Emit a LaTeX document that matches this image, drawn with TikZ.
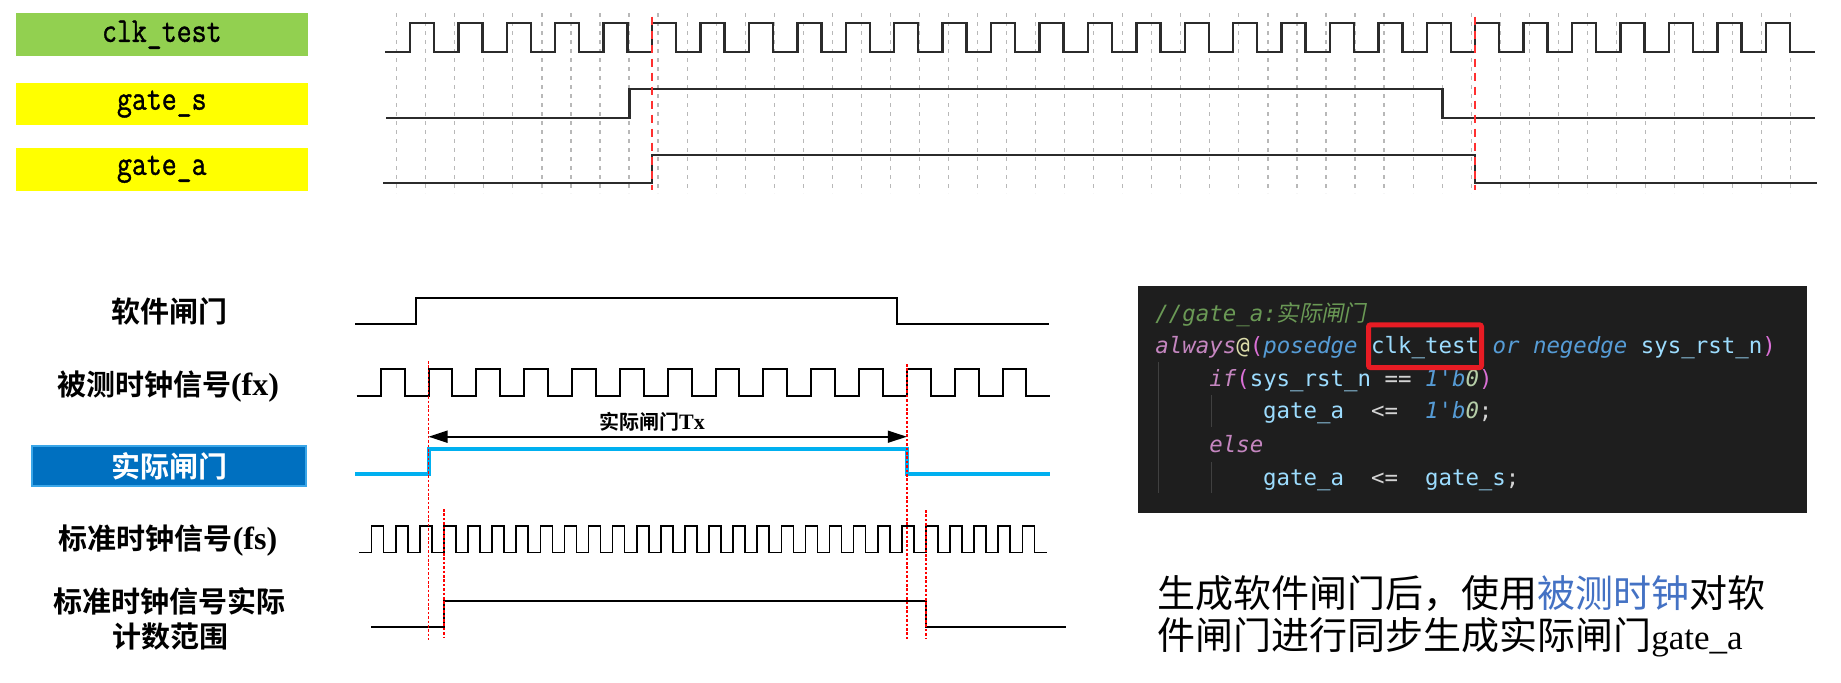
\documentclass[tikz,border=0pt]{standalone}
\usepackage{fontspec}
\usepackage{graphicx}
\usetikzlibrary{arrows.meta}
\newfontfamily\cjk[BoldFont={Noto Sans CJK SC Bold}]{Noto Sans CJK SC}
\newfontfamily\cjkslant[FakeSlant=0.2]{Noto Sans CJK SC}
\newfontfamily\codefont[Ligatures=TeXOff,ItalicFont={DejaVu Sans Mono Oblique}]{DejaVu Sans Mono}
\newfontfamily\capserif{Liberation Serif}
\newfontfamily\lblmono[FakeBold=1.2]{Latin Modern Mono}
\definecolor{boxgreen}{HTML}{92D050}
\definecolor{boxyellow}{HTML}{FFFF00}
\definecolor{boxblue}{HTML}{0070C0}
\definecolor{boxblueedge}{HTML}{3AA6E8}
\definecolor{wavegray}{HTML}{2B2B2B}
\definecolor{gridgray}{HTML}{B8B8B8}
\definecolor{markred}{HTML}{FF3030}
\definecolor{gateblue}{HTML}{00B0F0}
\definecolor{codebg}{HTML}{1E1E1E}
\definecolor{ccom}{HTML}{6A9955}
\definecolor{ckw}{HTML}{C586C0}
\definecolor{cblue}{HTML}{569CD6}
\definecolor{cid}{HTML}{9CDCFE}
\definecolor{cop}{HTML}{D4D4D4}
\definecolor{cpar}{HTML}{DA70D6}
\definecolor{cat}{HTML}{DCDCAA}
\definecolor{cnum}{HTML}{B5CEA8}
\definecolor{hlred}{HTML}{E81C24}
\definecolor{guide}{HTML}{404040}
\definecolor{capblue}{HTML}{4472C4}
\newcommand{\lbltext}[1]{\scalebox{1}[1.2]{#1}}
\newcommand{\latpart}[1]{{\capserif\fontsize{16}{17.5}\selectfont #1}}
\begin{document}
\begin{tikzpicture}[x=0.5pt,y=-0.5pt,
  toplabel/.style={minimum width=146.2pt, minimum height=21.4pt, inner sep=0pt, font=\lblmono\fontsize{14.5}{17}\selectfont},
  siglabel/.style={inner sep=0pt, font=\cjk\bfseries\fontsize{14.5}{17.5}\selectfont},
  sigwave/.style={draw=wavegray, line width=1.2pt},
  gridline/.style={draw=gridgray, line width=0.6pt, dash pattern=on 2pt off 2.5pt},
  topmark/.style={draw=markred, line width=1pt, dash pattern=on 4pt off 3pt},
  bwave/.style={draw=black, line width=1pt},
  fswave/.style={draw=black, line width=0.8pt},
  botmark/.style={draw=red, line width=0.75pt, dash pattern=on 1.3pt off 0.9pt},
  codeline/.style={anchor=base west, inner sep=0pt, text=cop, font=\codefont\fontsize{11.2}{13}\selectfont},
  guideline/.style={draw=guide, line width=0.5pt},
  capline/.style={anchor=base west, inner sep=0pt, font=\cjk\fontsize{19}{22}\selectfont}]
\useasboundingbox (0,0) rectangle (1841,682);
\fill[white] (0,0) rectangle (1841,682);

% ---------- top timing diagram ----------
\node[toplabel, fill=boxgreen] (lclk) at (161.8,34.7) {\lbltext{clk\_test}};
\node[toplabel, fill=boxyellow] (lgs) at (161.8,104) {\lbltext{gate\_s}};
\node[toplabel, fill=boxyellow] (lga) at (161.8,169.2) {\lbltext{gate\_a}};

\foreach \k in {0,...,48}
  \draw[gridline] ({396.7+29.04*\k},13) -- ({396.7+29.04*\k},193);

\draw[sigwave] (385,51.7) \foreach \k in {0,...,28} { -- ({410+48.42*\k},51.7) -- ++(0,-29) -- ++(24,0) -- ++(0,29) } -- (1815,51.7);
\draw[sigwave] (386,118) -- (629.3,118) -- (629.3,89) -- (1442.3,89) -- (1442.3,118) -- (1815,118);
\draw[sigwave] (383.3,183) -- (652.1,183) -- (652.1,155) -- (1475.2,155) -- (1475.2,183) -- (1816.7,183);
\draw[topmark] (652.1,16.7) -- (652.1,190);
\draw[topmark] (1475.2,16.7) -- (1475.2,190);

% ---------- bottom-left timing diagram ----------
\node[siglabel] (sw) at (169,311) {软件闸门};
\node[siglabel] (fx) at (168,387) {被测时钟信号\latpart{(fx)}};
\node[siglabel, fill=boxblue, draw=boxblueedge, line width=0.75pt, text=white, minimum width=137pt, minimum height=20pt] (ag) at (169,466) {实际闸门};
\node[siglabel] (fs) at (168,541) {标准时钟信号\latpart{(fs)}};
\node[siglabel, align=center] (cnt) at (170,618.5) {标准时钟信号实际\\计数范围};

\draw[bwave] (355.3,324.3) -- (415.6,324.3) -- (415.6,297.7) -- (897.2,297.7) -- (897.2,324.3) -- (1049,324.3);
\draw[bwave] (356.7,395.7) \foreach \k in {0,...,13} { -- ({380.7+47.83*\k},395.7) -- ++(0,-26.7) -- ++(23.9,0) -- ++(0,26.7) } -- (1050.3,395.7);
\draw[draw=gateblue, line width=2pt] (355.3,474.3) -- (428.5,474.3) -- (428.5,449) -- (906.8,449) -- (906.8,474.3) -- (1050,474.3);
\draw[fswave] (359.1,552.3) \foreach \k in {0,...,27} { -- ({371.6+24.1*\k},552.3) -- ++(0,-26.3) -- ++(12.05,0) -- ++(0,26.3) } -- (1047,552.3);
\draw[bwave] (371,626.7) -- (443.9,626.7) -- (443.9,600.7) -- (925.9,600.7) -- (925.9,626.7) -- (1066,626.7);

\draw[botmark] (428.5,361) -- (428.5,640);
\draw[botmark] (906.8,364) -- (906.8,639);
\draw[botmark] (443.9,509) -- (443.9,638);
\draw[botmark] (925.9,510) -- (925.9,638);

\coordinate (ta) at (428.5,436.7);
\coordinate (tb) at (906.8,436.7);
\draw[line width=0.8pt, {Triangle[length=9.5pt,width=6pt]}-{Triangle[length=9.5pt,width=6pt]}] (ta) -- (tb);
\node[font=\cjk\bfseries\fontsize{10}{12}\selectfont, inner sep=0pt] (tx) at (652,422) {实际闸门{\capserif\bfseries\fontsize{11}{12}\selectfont Tx}};

% ---------- code panel ----------
\node[fill=codebg, minimum width=334.5pt, minimum height=113.5pt, inner sep=0pt] (code) at (1472.5,399.5) {};
\draw[guideline] (1158,362) -- (1158,493);
\draw[guideline] (1211.6,395) -- (1211.6,427);
\draw[guideline] (1211.6,462) -- (1211.6,493);

\node[codeline] (c1) at (1155,321) {\textcolor{ccom}{\itshape //gate\_a:{\cjkslant 实际闸门}}};
\node[codeline] (c2) at (1155,353.7) {{\itshape\color{ckw}always}{\color{cat}@}{\color{cpar}(}{\itshape\color{cblue}posedge} {\color{cid}clk\_test} {\itshape\color{cblue}or negedge} {\color{cid}sys\_rst\_n}{\color{cpar})}};
\node[codeline] (c3) at (1208.9,386) {{\itshape\color{ckw}if}{\color{cpar}(}{\color{cid}sys\_rst\_n} {\color{cop}==} {\itshape\color{cblue}1'b}{\itshape\color{cnum}0}{\color{cpar})}};
\node[codeline] (c4) at (1262.8,418.7) {{\color{cid}gate\_a}\ \ {\color{cop}<=}\ \ {\itshape\color{cblue}1'b}{\itshape\color{cnum}0}{\color{cop};}};
\node[codeline] (c5) at (1208.9,452) {{\itshape\color{ckw}else}};
\node[codeline] (c6) at (1262.8,485.3) {{\color{cid}gate\_a}\ \ {\color{cop}<=}\ \ {\color{cid}gate\_s}{\color{cop};}};

\node[draw=hlred, line width=2.5pt, rounded corners=1pt, minimum width=56.5pt, minimum height=21.35pt, inner sep=0pt] (hl) at (1425,346.2) {};

% ---------- caption ----------
\node[capline] (cap1) at (1157,607.5) {生成软件闸门后，使用\textcolor{capblue}{被测时钟}对软};
\node[capline] (cap2) at (1157,649) {件闸门进行同步生成实际闸门{\capserif\fontsize{17.5}{20}\selectfont gate\_a}};
\end{tikzpicture}
\end{document}
